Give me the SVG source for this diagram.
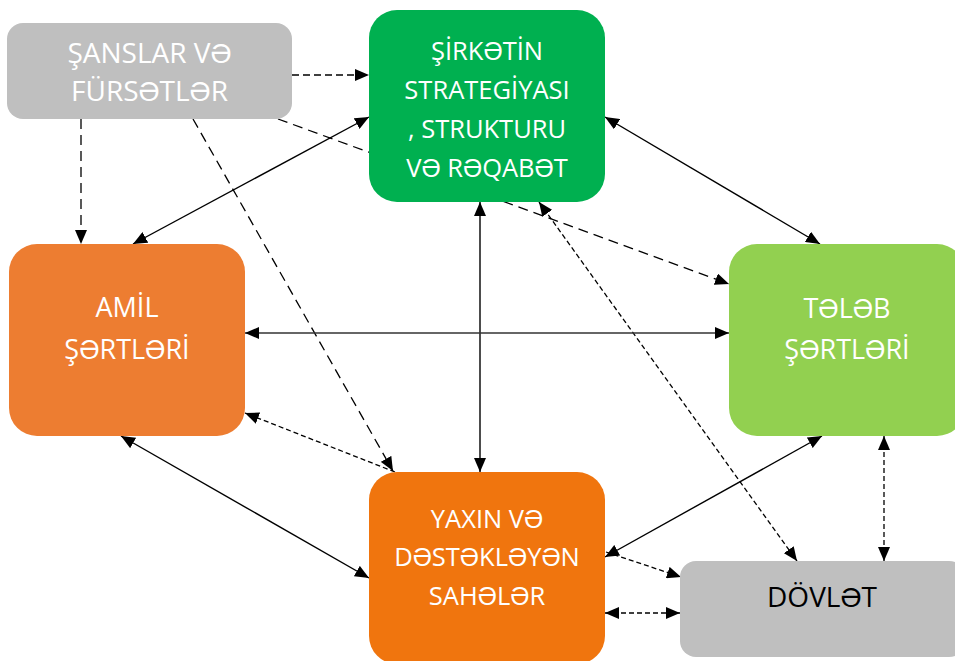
<svg xmlns="http://www.w3.org/2000/svg" width="955" height="661" viewBox="0 0 955 661">
<style>
.n text{font-family:"Open Sans","Liberation Sans",sans-serif;font-size:25.5px;text-anchor:middle;fill:#fff}
.n text.big{font-size:28px}
.n text.mid{font-size:27px}
.c line{stroke:#000;fill:none}
.s{stroke-width:1.4}
.d1{stroke-width:1.3;stroke-dasharray:7 4}
.d2{stroke-width:1.3;stroke-dasharray:10 6}
.d3{stroke-width:1.3;stroke-dasharray:5 3}
.both{marker-start:url(#ah);marker-end:url(#ah)}
.end{marker-end:url(#ah)}
</style>
<defs>
<marker id="ah" viewBox="0 0 14 12" refX="14" refY="6" markerWidth="14" markerHeight="12" markerUnits="userSpaceOnUse" orient="auto-start-reverse">
<path d="M0,0 L14,6 L0,12 z" fill="#000"/>
</marker>
</defs>
<rect width="955" height="661" fill="#fff"/>
<g id="connectors" class="c">
<line class="d1 end" x1="292" y1="75" x2="369" y2="75"/>
<line class="d2 end" x1="81" y1="119" x2="81" y2="244"/>
<line class="d2 end" x1="278" y1="119" x2="729" y2="284"/>
<line class="d2 end" x1="193" y1="119" x2="393" y2="471"/>
<line class="s both" x1="133" y1="244" x2="369" y2="117"/>
<line class="s both" x1="605" y1="117" x2="820" y2="244"/>
<line class="s both" x1="480" y1="202" x2="480" y2="472"/>
<line class="d3 both" x1="539" y1="202" x2="797" y2="561"/>
<line class="s both" x1="245" y1="333" x2="729" y2="333" style="stroke:#333"/>
<line class="s both" x1="121" y1="436" x2="369" y2="578"/>
<line class="d3 end" x1="395" y1="472" x2="245" y2="413"/>
<line class="s both" x1="822" y1="436" x2="605" y2="557"/>
<line class="d3 both" x1="884" y1="436" x2="884" y2="561"/>
<line class="d3 end" x1="606" y1="552" x2="681" y2="577"/>
<line class="d3 both" x1="605" y1="613" x2="680" y2="613"/>
</g>
<g id="sanslar" class="n">
<rect x="7" y="23" width="285" height="96" rx="16" fill="#BFBFBF"/>
<text class="big" x="149.5" y="63">ŞANSLAR VƏ</text>
<text class="big" x="149.5" y="101">FÜRSƏTLƏR</text>
</g>
<g id="sirket" class="n">
<rect x="369" y="10" width="236" height="192" rx="28" fill="#00B050"/>
<text x="487" y="60">ŞİRKƏTİN</text>
<text x="487" y="99">STRATEGİYASI</text>
<text x="487" y="138">, STRUKTURU</text>
<text x="487" y="177">VƏ RƏQABƏT</text>
</g>
<g id="amil" class="n">
<rect x="9" y="244" width="236" height="192" rx="28" fill="#ED7D31"/>
<text class="mid" x="127" y="317">AMİL</text>
<text class="mid" x="127" y="359">ŞƏRTLƏRİ</text>
</g>
<g id="teleb" class="n">
<rect x="729" y="244" width="236" height="192" rx="28" fill="#92D050"/>
<text class="mid" x="847" y="318">TƏLƏB</text>
<text class="mid" x="847" y="359">ŞƏRTLƏRİ</text>
</g>
<g id="yaxin" class="n">
<rect x="369" y="472" width="236" height="192" rx="28" fill="#F0750E"/>
<text x="487" y="528">YAXIN VƏ</text>
<text x="487" y="566">DƏSTƏKLƏYƏN</text>
<text x="487" y="605">SAHƏLƏR</text>
</g>
<g id="dovlet" class="n">
<rect x="680" y="561" width="285" height="96" rx="16" fill="#BFBFBF"/>
<text class="big" x="822" y="607" style="fill:#000">DÖVLƏT</text>
</g>
</svg>
